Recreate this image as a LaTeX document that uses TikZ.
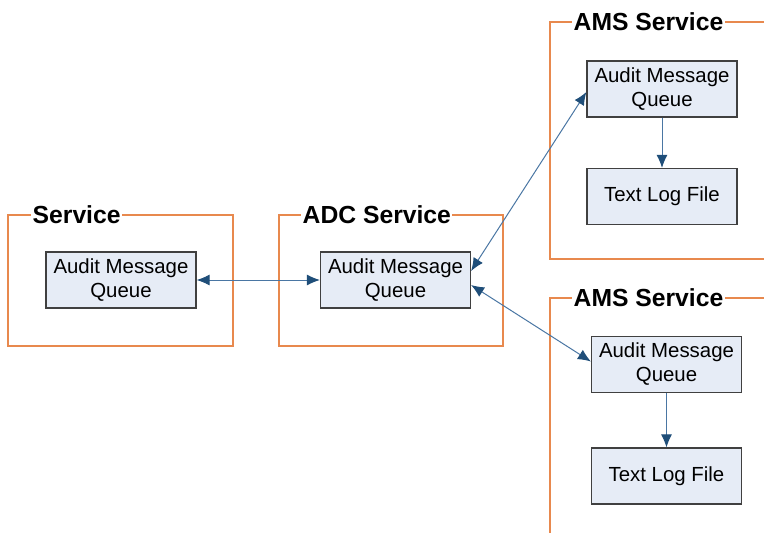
\documentclass[tikz,border=0pt]{standalone}
\usepackage{fontspec}
\setmainfont{Liberation Sans}
\usetikzlibrary{arrows.meta}
\definecolor{frameorange}{HTML}{E8894E}
\definecolor{qfill}{HTML}{E6ECF6}
\definecolor{qdraw}{HTML}{404040}
\definecolor{linkline}{HTML}{4A76A3}
\definecolor{linkhead}{HTML}{1F4E79}
\begin{document}
\begin{tikzpicture}[x=1pt,y=-1pt,
  frame/.style={draw=frameorange,line width=2.8pt},
  title/.style={fill=white,inner xsep=1.5pt,inner ysep=0pt,anchor=west,font=\fontsize{24.7}{26}\selectfont\bfseries},
  qbox/.style={draw=qdraw,fill=qfill,line width=1.2pt,minimum width=150pt,minimum height=56pt,inner sep=0pt,align=center,font=\fontsize{20.4}{24}\selectfont},
  link/.style={draw=linkline,line width=1pt,{Latex[length=13pt,width=11pt,color=linkhead]}-{Latex[length=13pt,width=11pt,color=linkhead]}},
  flow/.style={draw=linkline,line width=1pt,-{Latex[length=13pt,width=11pt,color=linkhead]}}
]
\useasboundingbox (0,0) rectangle (764,533);
\begin{scope}
\clip (0,0) rectangle (764,533);
% frames
\draw[frame] (8,215) rectangle (233,346);
\draw[frame] (279,215) rectangle (503,346);
\draw[frame] (800,22) -- (550,22) -- (550,259) -- (800,259);
\draw[frame] (800,298) -- (550,298) -- (550,560);
\end{scope}
% titles
\node[title] (t1) at (31,215) {Service};
\node[title] (t2) at (301,215) {ADC Service};
\node[title] (t3) at (572,22) {AMS Service};
\node[title] (t4) at (572,298) {AMS Service};
% boxes
\node[qbox] (sq) at (121,280) {Audit Message\\Queue};
\node[qbox] (aq) at (395.5,280) {Audit Message\\Queue};
\node[qbox] (m1q) at (662,89) {Audit Message\\Queue};
\node[qbox] (m1t) at (662,196.5) {Text Log File};
\node[qbox] (m2q) at (666.5,364.5) {Audit Message\\Queue};
\node[qbox] (m2t) at (666.5,476) {Text Log File};
% connectors
\draw[link] (sq.east) -- (aq.west);
\draw[link] ([yshift=9pt]aq.east) -- ([yshift=-3pt]m1q.west);
\draw[link] ([yshift=-5pt]aq.east) -- ([yshift=3pt]m2q.west);
\draw[flow] (m1q.south) -- (m1t.north);
\draw[flow] (m2q.south) -- (m2t.north);
\end{tikzpicture}
\end{document}
